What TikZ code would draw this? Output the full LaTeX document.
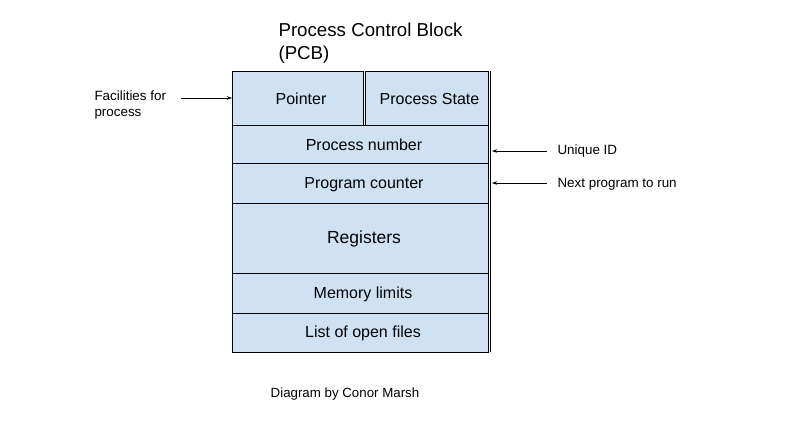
\documentclass[tikz,border=0pt]{standalone}
\usepackage{fontspec}
\setmainfont{Liberation Sans}
\usetikzlibrary{arrows.meta}
\definecolor{cellblue}{HTML}{CFE2F3}
\begin{document}
\begin{tikzpicture}[x=1pt,y=-1pt,
  cell/.style={draw=black,fill=cellblue,line width=0.9pt},
  celltext/.style={font=\fontsize{16}{19}\selectfont},
  sidetext/.style={font=\fontsize{13.4}{15.5}\selectfont,anchor=west,align=left},
  pointer/.style={-{Stealth[length=5pt,width=3.5pt]},line width=0.7pt}]
\useasboundingbox (0,0) rectangle (800,444);
% cells
\draw[cell] (232,71) rectangle (363,125);
\draw[cell] (365,71) rectangle (488,125);
\draw[cell] (232,125) rectangle (488,163);
\draw[cell] (232,163) rectangle (488,203);
\draw[cell] (232,203) rectangle (488,273);
\draw[cell] (232,273) rectangle (488,313);
\draw[cell] (232,313) rectangle (488,352);
\draw[line width=0.9pt] (490.5,71) -- (490.5,352);
% texts
\node[celltext] (ptr) at (301,99) {Pointer};
\node[celltext] (ps) at (429.5,99) {Process State};
\node[celltext] (pn) at (364,145) {Process number};
\node[celltext] (pc) at (364,185) {Program counter};
\node[font=\fontsize{17.5}{20}\selectfont] (reg) at (364,239) {Registers};
\node[celltext] (ml) at (363,294) {Memory limits};
\node[celltext] (lf) at (363,333) {List of open files};
% title
\node[font=\fontsize{18.7}{23}\selectfont,align=left,anchor=north west] (title) at (275,19) {Process Control Block\\(PCB)};
% side labels
\node[sidetext] (fac) at (91,105) {Facilities for\\process};
\node[sidetext] (uid) at (554,151) {Unique ID};
\node[sidetext] (npr) at (554,184) {Next program to run};
\coordinate (facend) at (232,98);
\coordinate (uidend) at (492,151);
\coordinate (nprend) at (492,183);
\coordinate (facstart) at (181,98);
\coordinate (uidstart) at (547,151);
\coordinate (nprstart) at (547,183);
\draw[pointer] (facstart) -- (facend);
\draw[pointer] (uidstart) -- (uidend);
\draw[pointer] (nprstart) -- (nprend);
% credit
\node[font=\fontsize{13.3}{15}\selectfont] (credit) at (345,394) {Diagram by Conor Marsh};
\end{tikzpicture}
\end{document}
